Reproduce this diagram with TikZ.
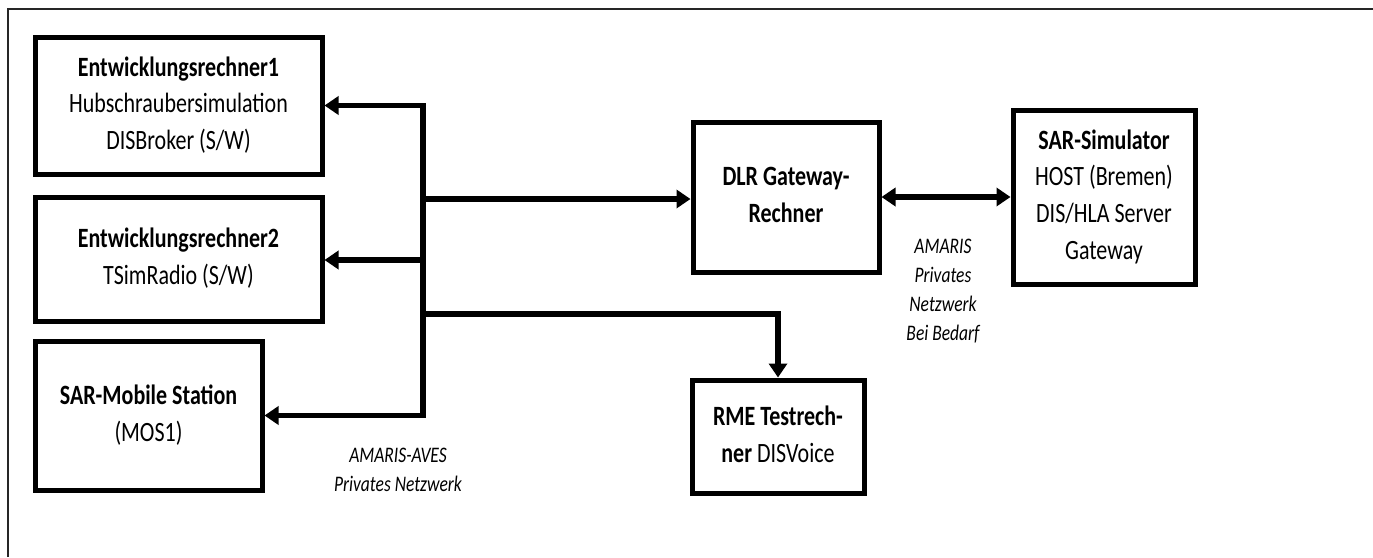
\documentclass[tikz,border=0pt]{standalone}
\usepackage{fontspec}
\usepackage{graphicx}
\setmainfont{Carlito}
\usetikzlibrary{arrows.meta}
\newcommand{\vstretch}[1]{\scalebox{1}[1.27]{\begin{tabular}{@{}c@{}}#1\end{tabular}}}
\begin{document}
\begin{tikzpicture}[x=1pt,y=-1pt,
  box/.style={draw,line width=5pt,rectangle,align=center,inner sep=0pt,
    font=\fontsize{22}{29}\selectfont},
  conn/.style={line width=5.5pt},
  arr/.style={conn,-{Triangle[length=14pt,width=18pt]}},
  darr/.style={conn,{Triangle[length=14pt,width=18pt]}-{Triangle[length=14pt,width=18pt]}},
  lbl/.style={align=center,inner sep=0pt,font=\fontsize{17.5}{23}\selectfont\itshape},
  frame/.style={line width=1.8pt,black!85}]
\useasboundingbox (0,0) rectangle (1373,557);
\draw[frame] (8,557) -- (8,9) -- (1373,9);

\node[box,minimum width=287pt,minimum height=137pt] (e1) at (178.5,105.5)
  {\vstretch{\textbf{Entwicklungsrechner1}\\Hubschraubersimulation\\DISBroker (S/W)}};
\node[box,minimum width=287pt,minimum height=124pt] (e2) at (178.5,259)
  {\vstretch{\textbf{Entwicklungsrechner2}\\TSimRadio (S/W)}};
\node[box,minimum width=227pt,minimum height=149pt] (mos) at (148.5,415.5)
  {\vstretch{\textbf{SAR-Mobile Station}\\(MOS1)}};
\node[box,minimum width=186pt,minimum height=150pt] (dlr) at (786,197)
  {\vstretch{\textbf{DLR Gateway-}\\\textbf{Rechner}}};
\node[box,minimum width=182pt,minimum height=174pt] (sar) at (1104,197)
  {\raisebox{-3pt}{\vstretch{\textbf{SAR-Simulator}\\HOST (Bremen)\\DIS/HLA Server\\Gateway}}};
\node[box,minimum width=172pt,minimum height=113pt] (rme) at (778,436.5)
  {\vstretch{\textbf{RME Testrech-}\\\textbf{ner} DISVoice}};

\coordinate (b1) at (423,105.5);
\coordinate (b2) at (423,260);
\coordinate (bd) at (423,199);
\coordinate (br) at (423,314);
\coordinate (b3) at (423,415.5);
\coordinate (rk) at (778,314);

\draw[conn,line cap=rect] (b1) -- (b3);
\draw[arr] (b1) -- (e1.east |- b1);
\draw[arr] (b2) -- (e2.east |- b2);
\draw[arr] (b3) -- (mos.east |- b3);
\draw[arr] (bd) -- (dlr.west |- bd);
\draw[arr,line join=miter] (br) -- (rk) -- (rme.north);
\draw[darr] (dlr.east) -- (sar.west |- dlr.east);

\node[lbl] (l1) at (398,471) {\vstretch{AMARIS-AVES\\Privates Netzwerk}};
\node[lbl] (l2) at (943,291) {\vstretch{AMARIS\\Privates\\Netzwerk\\Bei Bedarf}};
\end{tikzpicture}
\end{document}
